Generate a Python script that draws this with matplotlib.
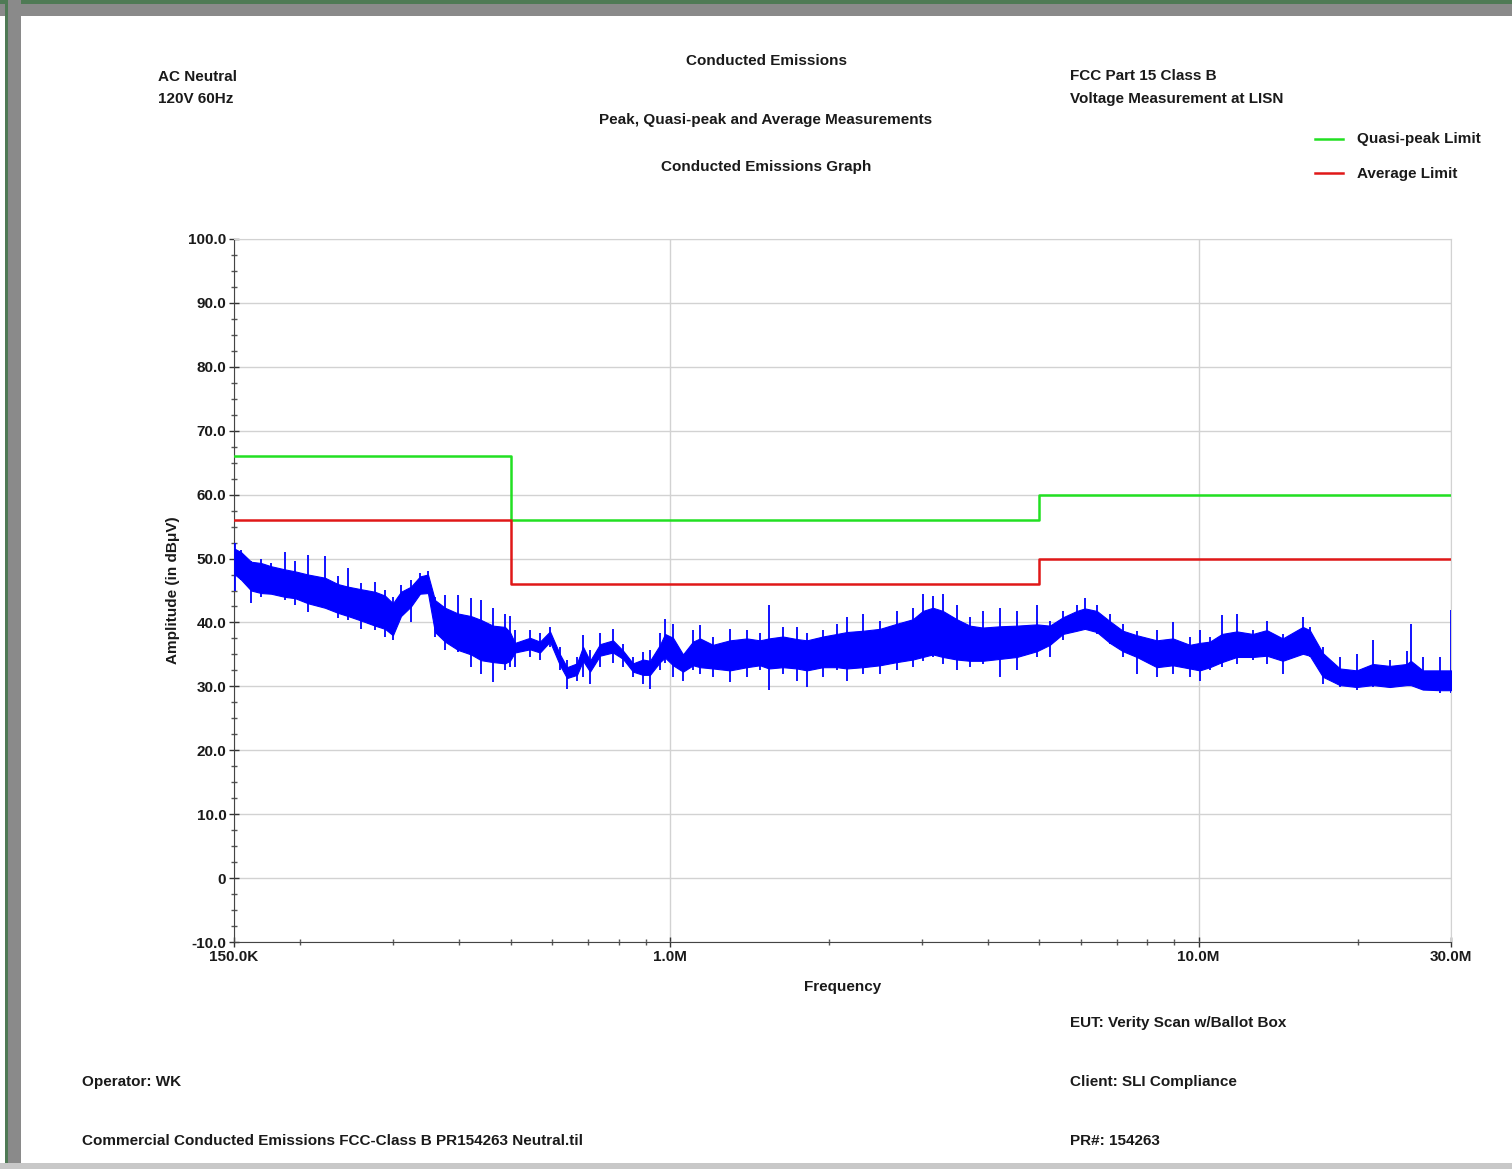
import numpy as np
import matplotlib.pyplot as plt
from matplotlib.lines import Line2D
from matplotlib.patches import Rectangle

# Limites FCC Part 15 classe B (tension au RSIL)
limit_freq = [0.15, 0.5, 5.0, 30.0]
qp_limit = [66.0, 56.0, 60.0, 60.0]
avg_limit = [56.0, 46.0, 50.0, 50.0]

# Balayage crête relevé (MHz, dBµV) : enveloppe des pics et bande centrale
freq = [0.1507, 0.1547, 0.1616, 0.1688, 0.1762, 0.1873, 0.1956, 0.2070, 0.2229,
        0.2359, 0.2464, 0.2608, 0.2771, 0.2894, 0.2996, 0.3103, 0.3241, 0.3371,
        0.3490, 0.3598, 0.3758, 0.3977, 0.4208, 0.4396, 0.4631, 0.4880, 0.4987,
        0.5097, 0.5441, 0.5683, 0.5936, 0.6200, 0.6392, 0.6677, 0.6854, 0.7066,
        0.7380, 0.7810, 0.8158, 0.8520, 0.8900, 0.9175, 0.9584, 0.9795, 1.0142,
        1.0593, 1.1064, 1.1407, 1.2070, 1.2995, 1.3989, 1.4806, 1.5398, 1.6365,
        1.7393, 1.8168, 1.9476, 2.0700,
        2.1620, 2.3181, 2.4965, 2.6882, 2.8814, 3.0096, 3.1436, 3.2835, 3.4895,
        3.6924, 3.9074, 4.2083, 4.5321, 4.9442, 5.2316, 5.5362, 5.8835, 6.0921,
        6.4188, 6.7926, 7.1882, 7.6389,
        8.334, 8.937, 9.623, 10.05, 10.50, 11.07, 11.81, 12.66, 13.45, 14.42,
        15.74, 16.22, 17.17, 18.49, 19.90, 21.34, 22.98, 24.74, 25.18, 26.53,
        28.56, 30.0]

peak_hi = [52.5, 51.4, 49.6, 50.0, 49.3, 51.0, 49.6, 50.6, 50.4, 47.2, 48.5, 46.2,
           46.4, 45.1, 44.0, 45.9, 46.7, 47.7, 48.0, 44.0, 44.3, 44.3, 43.8, 43.5,
           42.2, 41.4, 41.0,
           38.8, 38.8, 38.3, 39.3, 36.2, 34.1, 34.6, 38.0, 35.7, 38.3, 39.0, 36.7,
           34.6, 35.4, 35.7, 38.3, 40.5, 39.8, 34.6, 38.8, 39.6, 37.7, 39.0, 38.8,
           38.3, 42.7, 39.3, 39.3, 38.3, 38.8, 39.8,
           40.8, 41.3, 40.3, 41.8, 42.3, 44.4, 44.1, 44.4, 42.8, 40.8, 41.8, 42.3,
           41.8, 42.8, 40.3, 41.8, 42.8, 43.9, 42.8, 41.3, 39.7, 38.7,
           38.8, 40.0, 37.7, 38.8, 37.7, 41.1, 41.4, 38.8, 40.3, 38.2, 40.8, 39.3,
           36.1, 34.6, 35.1, 37.2, 34.1, 35.6, 39.8, 34.6, 34.6, 41.9]

peak_lo = [45.0, 46.7, 43.0, 44.0, 44.6, 43.5, 42.8, 41.7, 42.2, 40.7, 40.4, 39.0,
           38.8, 37.8, 37.2, 42.0, 40.1, 45.1, 44.6, 37.8, 35.7, 35.4, 33.0, 32.0,
           30.7, 32.5, 33.0,
           33.0, 34.6, 34.1, 36.2, 32.5, 29.6, 30.9, 31.5, 30.4, 33.0, 33.6, 33.0,
           31.5, 30.4, 29.6, 32.5, 33.6, 31.5, 30.9, 32.5, 32.0, 31.5, 30.7, 31.5,
           32.5, 29.4, 32.0, 30.9, 29.9, 31.5, 32.5,
           30.9, 32.0, 32.0, 32.5, 33.0, 34.0, 34.6, 33.5, 32.5, 33.0, 33.5, 31.5,
           32.5, 34.6, 34.6, 37.2, 38.7, 39.2, 38.2, 36.6, 34.6, 32.0,
           31.5, 32.0, 31.5, 30.9, 32.5, 33.0, 33.5, 34.1, 33.5, 32.0, 36.1, 34.6,
           30.4, 29.9, 29.4, 29.9, 29.9, 30.4, 30.4, 29.4, 28.9, 28.9]

core_hi = [51.5, 51.0, 49.5, 49.3, 48.8, 48.3, 48.0, 47.5, 47.0, 46.0, 45.6, 45.2,
           44.8, 44.2, 43.0, 44.8, 45.6, 47.2, 47.5, 43.5, 42.3, 41.4, 41.0, 40.4,
           39.5, 39.3, 38.5,
           36.8, 37.6, 37.0, 38.6, 35.0, 33.0, 33.6, 36.2, 34.0, 36.6, 37.2, 35.6,
           33.6, 34.2, 34.0, 36.5, 38.2, 37.6, 35.0, 37.0, 37.5, 36.5, 37.2, 37.5,
           37.2, 37.5, 37.8, 37.4, 37.2, 37.8, 38.2,
           38.5, 38.7, 39.0, 39.8, 40.5, 41.8, 42.3, 41.8, 40.5, 39.5, 39.2, 39.4,
           39.5, 39.7, 39.5, 40.8, 41.8, 42.2, 41.8, 40.2, 38.7, 38.0,
           37.2, 37.5, 36.5, 36.8, 37.0, 38.2, 38.6, 38.2, 38.8, 37.5, 39.3, 38.8,
           35.2, 32.8, 32.5, 33.5, 33.2, 33.5, 34.0, 32.5, 32.5, 32.5]

core_lo = [47.5, 46.7, 45.0, 44.6, 44.5, 44.0, 43.8, 43.0, 42.3, 41.5, 41.0, 40.3,
           39.5, 39.0, 38.0, 41.0, 42.5, 44.5, 44.6, 38.5, 37.0, 35.7, 35.0, 34.1,
           33.8, 33.6, 34.0,
           35.3, 35.8, 35.3, 37.0, 33.3, 31.3, 31.8, 34.0, 32.3, 34.8, 35.3, 34.3,
           32.3, 31.8, 31.8, 33.8, 34.5, 33.3, 32.3, 33.3, 33.0, 32.8, 32.5, 33.0,
           33.3, 32.8, 33.0, 32.8, 32.5, 33.0, 33.0,
           32.8, 33.0, 33.3, 33.8, 34.2, 34.6, 35.0, 34.6, 34.2, 34.0, 34.0, 34.3,
           34.6, 35.5, 36.5, 38.2, 38.7, 39.0, 38.5, 36.8, 35.5, 34.6,
           33.0, 33.3, 32.8, 32.5, 33.0, 33.8, 34.6, 34.6, 34.8, 34.0, 35.1, 34.8,
           31.5, 30.2, 29.9, 30.2, 29.9, 30.2, 30.2, 29.5, 29.4, 29.4]

y_ticks = [-10, 0, 10, 20, 30, 40, 50, 60, 70, 80, 90, 100]
y_labels = ['-10.0', '0', '10.0', '20.0', '30.0', '40.0', '50.0', '60.0',
            '70.0', '80.0', '90.0', '100.0']
x_ticks = [0.15, 1.0, 10.0, 30.0]
x_labels = ['150.0K', '1.0M', '10.0M', '30.0M']

plt.rcParams['font.family'] = ['Liberation Sans', 'DejaVu Sans']
txt = dict(fontsize=11, fontweight='bold', color='#1a1a1a')

fig = plt.figure(figsize=(15.12, 11.69), dpi=100)

# cadre de la fenêtre
fig.patches.append(Rectangle((0, 1 - 16 / 1169), 1, 16 / 1169, transform=fig.transFigure,
                             facecolor='#8a8a8a', edgecolor='none'))
fig.patches.append(Rectangle((0, 1 - 4 / 1169), 1, 4 / 1169, transform=fig.transFigure,
                             facecolor='#4f7a55', edgecolor='none'))
fig.patches.append(Rectangle((7 / 1512, 0), 14 / 1512, 1, transform=fig.transFigure,
                             facecolor='#8a8a8a', edgecolor='none'))
fig.patches.append(Rectangle((5 / 1512, 0), 3 / 1512, 1, transform=fig.transFigure,
                             facecolor='#4f7a55', edgecolor='none'))
fig.patches.append(Rectangle((0, 0), 1, 6 / 1169, transform=fig.transFigure,
                             facecolor='#c8c8c8', edgecolor='none'))

ax = fig.add_axes([234 / 1512, 1 - 942 / 1169, 1217 / 1512, 703 / 1169])
ax.set_xscale('log')
ax.set_xlim(0.15, 30.0)
ax.set_ylim(-10, 100)

# trace crête : bande centrale pleine + pointes verticales
ax.fill_between(freq, core_lo, core_hi, color='#0000ff', lw=0.8, zorder=3)
ax.vlines(freq, peak_lo, peak_hi, color='#0000ff', lw=1.3, zorder=3)

# limites
ax.step(limit_freq, qp_limit, where='post', color='#22e022', lw=1.8, zorder=4)
ax.step(limit_freq, avg_limit, where='post', color='#e01818', lw=1.8, zorder=4)

ax.set_yticks(y_ticks)
ax.set_yticklabels(y_labels)
ax.set_yticks(np.arange(-10, 100.1, 2.5), minor=True)
ax.set_xticks(x_ticks)
ax.set_xticklabels(x_labels)
ax.set_xticks([0.2, 0.3, 0.4, 0.5, 0.6, 0.7, 0.8, 0.9, 2, 3, 4, 5, 6, 7, 8, 9, 20],
              minor=True)
ax.xaxis.set_minor_formatter(plt.NullFormatter())
ax.tick_params(which='major', direction='inout', length=7, width=1, color='#333333',
               labelsize=11, labelcolor='#1a1a1a', pad=2)
ax.tick_params(which='minor', direction='inout', length=4, width=1, color='#555555')
for lab in ax.get_xticklabels() + ax.get_yticklabels():
    lab.set_fontweight('bold')

ax.grid(True, which='major', color='#d2d2d2', lw=1.0, zorder=0)
ax.spines['left'].set_color('#444444')
ax.spines['bottom'].set_color('#444444')
ax.spines['top'].set_color('#d2d2d2')
ax.spines['right'].set_color('#d2d2d2')

ax.set_xlabel('Frequency', labelpad=12, **txt)
ax.set_ylabel('Amplitude (in dBμV)', labelpad=6, **txt)

def ftext(x, y, s, ha='left'):
    fig.text(x / 1512, 1 - y / 1169, s, ha=ha, va='center', **txt)

ftext(158, 77, 'AC Neutral')
ftext(158, 99, '120V 60Hz')
ftext(766, 61, 'Conducted Emissions', 'center')
ftext(766, 120, 'Peak, Quasi-peak and Average Measurements', 'center')
ftext(766, 167, 'Conducted Emissions Graph', 'center')
ftext(1070, 76, 'FCC Part 15 Class B')
ftext(1070, 99, 'Voltage Measurement at LISN')
ftext(1357, 139, 'Quasi-peak Limit')
ftext(1357, 174, 'Average Limit')
ftext(1070, 1023, 'EUT: Verity Scan w/Ballot Box')
ftext(1070, 1082, 'Client: SLI Compliance')
ftext(1070, 1141, 'PR#: 154263')
ftext(82, 1082, 'Operator: WK')
ftext(82, 1141, 'Commercial Conducted Emissions FCC-Class B PR154263 Neutral.til')

fig.lines.append(Line2D([1315 / 1512, 1343 / 1512], [1 - 139 / 1169] * 2,
                        transform=fig.transFigure, color='#22e022', lw=1.8))
fig.lines.append(Line2D([1315 / 1512, 1343 / 1512], [1 - 173 / 1169] * 2,
                        transform=fig.transFigure, color='#e01818', lw=1.8))

fig.savefig('out.png', dpi=100)
